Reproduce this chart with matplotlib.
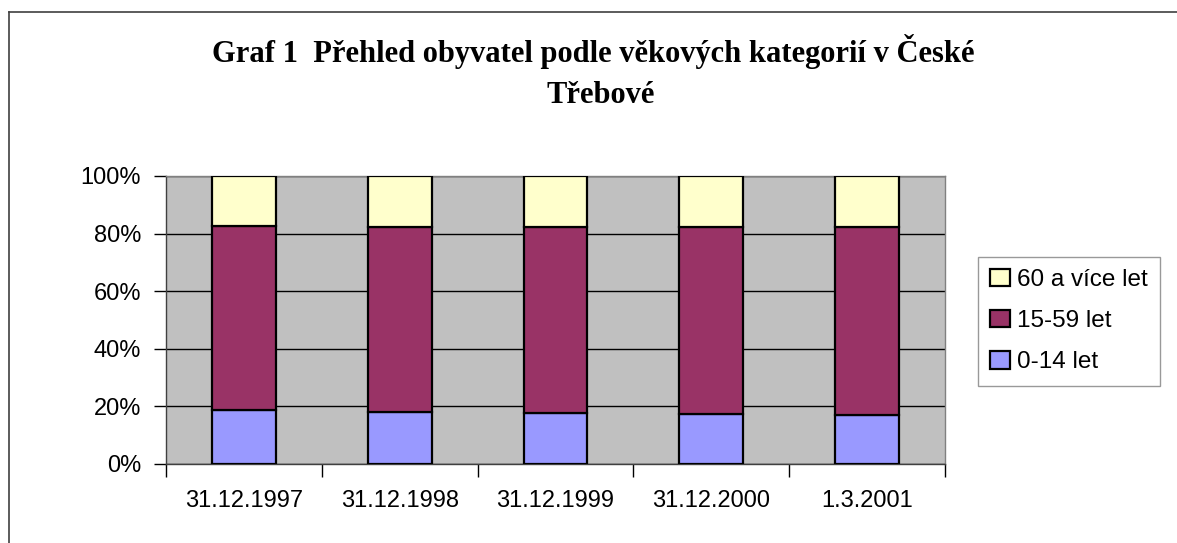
import matplotlib
matplotlib.use('Agg')
import matplotlib.pyplot as plt
from matplotlib.lines import Line2D
from matplotlib.ticker import FixedLocator, NullFormatter
import numpy as np

# ─── Data (share of population, %) ───────────────────────────────────
dates = ['31.12.1997', '31.12.1998', '31.12.1999', '31.12.2000', '1.3.2001']
age_0_14 = [18.6, 17.9, 17.8, 17.2, 17.1]
age_15_59 = [63.9, 64.5, 64.6, 65.2, 65.3]
age_60_plus = [17.5, 17.6, 17.6, 17.6, 17.6]

series = [
    ('0-14 let', age_0_14, '#9999FF'),
    ('15-59 let', age_15_59, '#993366'),
    ('60 a více let', age_60_plus, '#FFFFCC'),
]

fig = plt.figure(figsize=(11.77, 5.43), dpi=100)
ax = fig.add_axes([0.141, 0.1455, 0.662, 0.5304])
ax.set_facecolor('#C0C0C0')

x = np.arange(len(dates))
totals = np.array(age_0_14) + np.array(age_15_59) + np.array(age_60_plus)
bottom = np.zeros(len(dates))
handles = []
for name, vals, col in series:
    share = np.array(vals) / totals
    h = ax.bar(x, share, 0.41, bottom=bottom, color=col, edgecolor='black',
               linewidth=1.6, label=name, zorder=3)
    handles.append(h)
    bottom += share

ax.set_xlim(-0.5, len(dates) - 0.5)
ax.set_ylim(0, 1)
ax.set_yticks(np.arange(0, 1.01, 0.2))
ax.set_yticklabels([f'{int(round(v * 100))}%' for v in np.arange(0, 1.01, 0.2)])
ax.yaxis.grid(True, color='black', linewidth=1, zorder=1)
ax.tick_params(axis='y', direction='out', length=9, width=1, labelsize=17, pad=9)

ax.set_xticks(x)
ax.set_xticklabels(dates)
ax.tick_params(axis='x', which='major', length=0, labelsize=17, pad=19)
ax.xaxis.set_minor_locator(FixedLocator(np.arange(-0.5, len(dates), 1.0)))
ax.xaxis.set_minor_formatter(NullFormatter())
ax.tick_params(axis='x', which='minor', direction='out', length=9, width=1)

for s in ['top', 'right']:
    ax.spines[s].set_color('#808080')
ax.spines['left'].set_color('#404040')
ax.spines['bottom'].set_color('#404040')
for s in ax.spines.values():
    s.set_linewidth(1)

for lab in ax.get_xticklabels() + ax.get_yticklabels():
    lab.set_family('Liberation Sans')

# Title (two lines, centred)
fig.text(0.504, 0.886, 'Graf 1  Přehled obyvatel podle věkových kategorií v České',
         ha='center', va='baseline', fontsize=22, fontweight='bold',
         family='Liberation Serif')
fig.text(0.51, 0.810, 'Třebové', ha='center', va='baseline', fontsize=22,
         fontweight='bold', family='Liberation Serif')

# Legend (reverse order like Excel)
leg = fig.legend(handles[::-1], [s[0] for s in series][::-1],
                 loc='upper left', bbox_to_anchor=(0.831, 0.527),
                 prop={'family': 'Liberation Sans', 'size': 17.5},
                 frameon=True, fancybox=False, edgecolor='#808080',
                 handlelength=0.8, handleheight=0.72, handletextpad=0.3,
                 labelspacing=0.78, borderpad=0.5, borderaxespad=0)
leg.get_frame().set_linewidth(1)

# Outer chart border (top and left visible)
fig.add_artist(Line2D([0.0079, 1.0], [0.9770, 0.9770], color='#404040', lw=1.2,
                      transform=fig.transFigure))
fig.add_artist(Line2D([0.0079, 0.0079], [0.0, 0.9770], color='#404040', lw=1.2,
                      transform=fig.transFigure))

fig.savefig('out.png', dpi=100, facecolor='white')
